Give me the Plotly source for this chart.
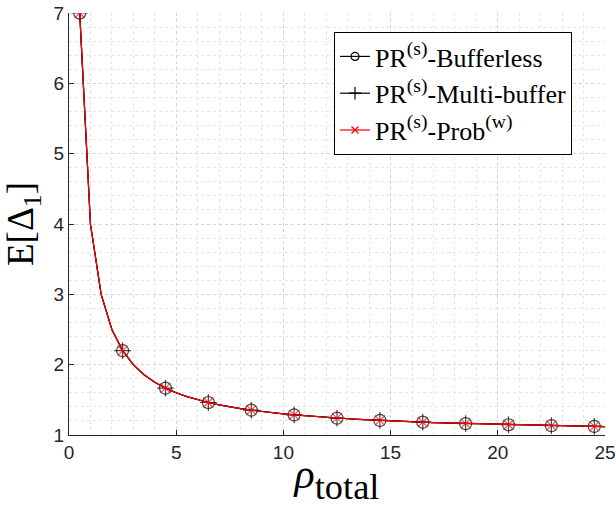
import plotly.graph_objects as go

rho = [0.5, 1, 1.5, 2, 2.5, 3, 3.5, 4, 4.5, 5, 5.5, 6, 6.5, 7, 7.5, 8, 8.5, 9, 9.5, 10,
       10.5, 11, 11.5, 12, 12.5, 13, 13.5, 14, 14.5, 15, 15.5, 16, 16.5, 17, 17.5, 18,
       18.5, 19, 19.5, 20, 20.5, 21, 21.5, 22, 22.5, 23, 23.5, 24, 24.5, 25]

bufferless = [7.0, 4.0, 3.0, 2.5, 2.2, 2.0, 1.857, 1.75, 1.667, 1.6, 1.545, 1.5, 1.462,
              1.429, 1.4, 1.375, 1.353, 1.333, 1.316, 1.3, 1.286, 1.273, 1.261, 1.25,
              1.24, 1.231, 1.222, 1.214, 1.207, 1.2, 1.194, 1.188, 1.182, 1.176, 1.171,
              1.167, 1.162, 1.158, 1.154, 1.15, 1.146, 1.143, 1.14, 1.136, 1.133, 1.13,
              1.128, 1.125, 1.122, 1.12]
multibuffer = list(bufferless)
prob_w = list(bufferless)

SUP = "<span style='font-size:28px'><sup>{}</sup></span>"
names = ["PR" + SUP.format("(s)") + "-Bufferless",
         "PR" + SUP.format("(s)") + "-Multi-buffer",
         "PR" + SUP.format("(s)") + "-Prob" + SUP.format("(w)")]
series = [bufferless, multibuffer, prob_w]
colors = ["black", "black", "red"]
symbols = ["circle-open", "cross-thin-open", "x-thin-open"]
msizes = [12, 12, 10]
leg_msizes = [8, 9, 7]

fig = go.Figure()
for name, ys, c, s, ms in zip(names, series, colors, symbols, msizes):
    sizes = [ms if i % 4 == 0 else 0 for i in range(len(rho))]
    fig.add_trace(go.Scatter(
        x=rho, y=ys, name=name, mode="lines+markers", showlegend=False,
        line=dict(color=c, width=1.2),
        marker=dict(symbol=s, size=sizes, color=c, line=dict(color=c, width=1.2)),
    ))
for name, c, s, ms in zip(names, colors, symbols, leg_msizes):
    fig.add_trace(go.Scatter(
        x=[None], y=[None], name=name, mode="lines+markers",
        line=dict(color=c, width=1.2),
        marker=dict(symbol=s, size=ms, color=c, line=dict(color=c, width=1.2)),
    ))

axis_common = dict(
    showline=True, linecolor="#262626", linewidth=1,
    ticks="inside", ticklen=5, tickcolor="#262626",
    tickfont=dict(family="Liberation Sans, Arial", size=19, color="#262626"),
    showgrid=True, gridcolor="#d4d4d4", griddash="dot", gridwidth=1,
    zeroline=False, mirror=False, automargin=False,
)

fig.update_xaxes(range=[0, 25], tickvals=[0, 5, 10, 15, 20, 25],
                 minor=dict(dtick=1, showgrid=True, gridcolor="#e6e6e6", griddash="dot"),
                 title=dict(text="<i>ρ</i><span style='font-size:52px'><sub>total</sub></span>",
                            font=dict(family="Liberation Serif, DejaVu Serif", size=42, color="black"),
                            standoff=0),
                 **axis_common)
fig.update_yaxes(range=[1, 7], tickvals=[1, 2, 3, 4, 5, 6, 7],
                 minor=dict(dtick=0.2, showgrid=True, gridcolor="#e6e6e6", griddash="dot"),
                 title=dict(text="E[Δ<sub>1</sub>]",
                            font=dict(family="Liberation Serif, DejaVu Serif", size=37, color="black"),
                            standoff=8),
                 **axis_common)

fig.update_layout(
    width=616, height=507,
    margin=dict(l=69, r=11, t=13, b=72),
    plot_bgcolor="white", paper_bgcolor="white",
    legend=dict(x=(572 - 69) / 536, y=1 - (32 - 13) / 422, xanchor="right", yanchor="top",
                bgcolor="white", bordercolor="black", borderwidth=1,
                font=dict(family="Liberation Serif, DejaVu Serif", size=26, color="black"),
                tracegroupgap=0, itemwidth=30),
    showlegend=True,
)

fig.write_html("out.html")
